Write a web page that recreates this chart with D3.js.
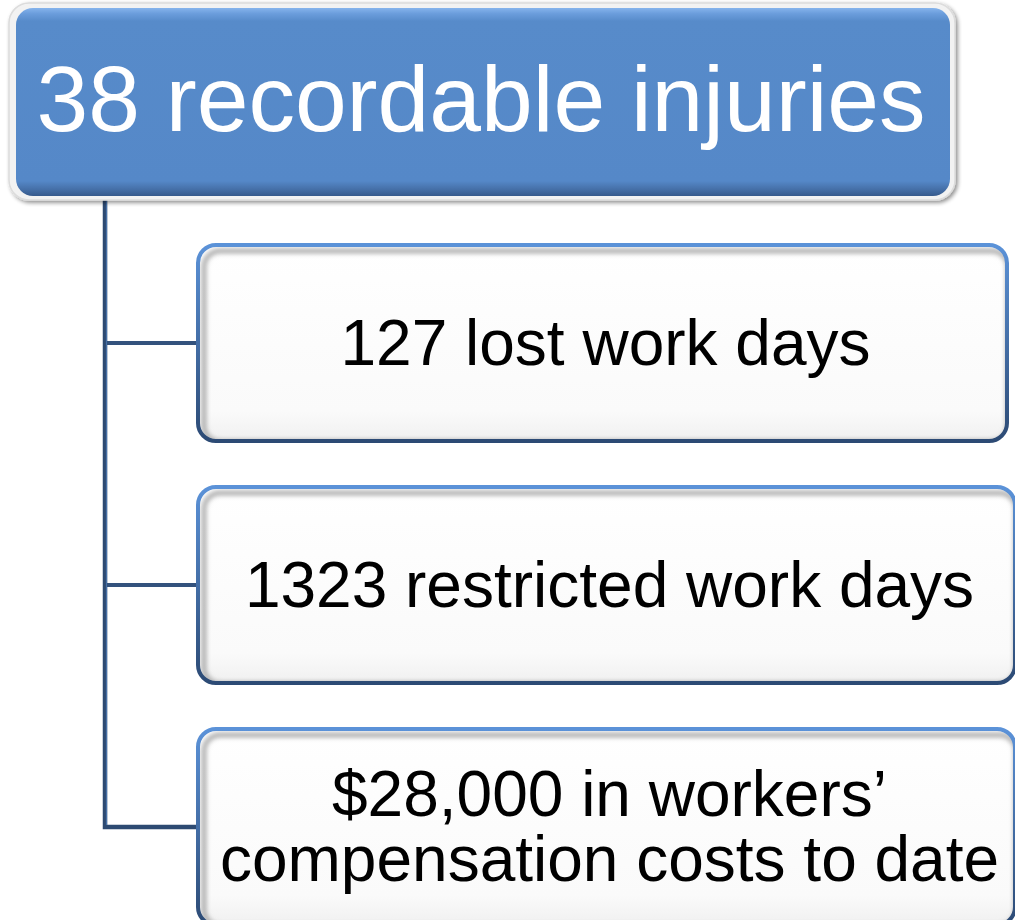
<!DOCTYPE html>
<html>
<head>
<meta charset="utf-8">
<script src="https://cdn.jsdelivr.net/npm/d3@7"></script>
<style>
  body { margin: 0; background: #fff; }
  svg { display: block; }
</style>
</head>
<body>
<div id="chart"></div>
<script>
// root and child labels (each child is a list of lines)
var rootLabel = "38 recordable injuries";
var childLabels = [
  ["127 lost work days"],
  ["1323 restricted work days"],
  ["$28,000 in workers\u2019", "compensation costs to date"]
];

var width = 1015, height = 920;

var svg = d3.select("#chart")
  .append("svg")
    .attr("width", width)
    .attr("height", height);

var defs = svg.append("defs");

// blue fill of the root box
var gBlue = defs.append("linearGradient")
  .attr("id", "rootFill").attr("x1", 0).attr("y1", 0).attr("x2", 0).attr("y2", 1);
gBlue.append("stop").attr("offset", "0%").attr("stop-color", "#86b4ec");
gBlue.append("stop").attr("offset", "3%").attr("stop-color", "#6b9ddc");
gBlue.append("stop").attr("offset", "7%").attr("stop-color", "#578bca");
gBlue.append("stop").attr("offset", "92%").attr("stop-color", "#5588c8");
gBlue.append("stop").attr("offset", "96%").attr("stop-color", "#4772ab");
gBlue.append("stop").attr("offset", "100%").attr("stop-color", "#365a8c");

// blue border of the child boxes
var gBorder = defs.append("linearGradient")
  .attr("id", "childStroke").attr("x1", 0).attr("y1", 0).attr("x2", 0).attr("y2", 1);
gBorder.append("stop").attr("offset", "0%").attr("stop-color", "#5b92d8");
gBorder.append("stop").attr("offset", "100%").attr("stop-color", "#2c4a74");

// white fill of child boxes
var gWhite = defs.append("linearGradient")
  .attr("id", "childFill").attr("x1", 0).attr("y1", 0).attr("x2", 0).attr("y2", 1);
gWhite.append("stop").attr("offset", "0%").attr("stop-color", "#ffffff");
gWhite.append("stop").attr("offset", "85%").attr("stop-color", "#fafafa");
gWhite.append("stop").attr("offset", "100%").attr("stop-color", "#f0f0f0");

// drop shadow
var shadow = defs.append("filter").attr("id", "shadow")
  .attr("x", "-5%").attr("y", "-5%").attr("width", "110%").attr("height", "115%");
shadow.append("feGaussianBlur").attr("in", "SourceAlpha").attr("stdDeviation", 2);
shadow.append("feOffset").attr("dx", 2).attr("dy", 2).attr("result", "off");
shadow.append("feComponentTransfer").append("feFuncA").attr("type", "linear").attr("slope", 0.45);
var m = shadow.append("feMerge");
m.append("feMergeNode");
m.append("feMergeNode").attr("in", "SourceGraphic");

// inner bevel for child boxes
var bevel = defs.append("filter").attr("id", "bevel");
bevel.append("feGaussianBlur").attr("stdDeviation", 2.5);

// layout
var rootBox = {x: 9, y: 3, w: 946, h: 197};
var childX = 198;
var childRight = [1007, 1015, 1015];
var trunkX = 105;

var y = d3.scaleBand()
  .domain(d3.range(childLabels.length))
  .range([245, 925])
  .paddingInner(0.19)
  .paddingOuter(0);

// connectors: elbow path from the root down to each child
var conn = svg.append("g");
var lastY = y(childLabels.length - 1) + y.bandwidth() / 2;
conn.append("path")
  .attr("d", "M" + trunkX + "," + (rootBox.y + rootBox.h - 4) + "V" + lastY + "H" + (childX + 2))
  .attr("fill", "none")
  .attr("stroke", "#2d4a72")
  .attr("stroke-width", 4.5)
  .attr("stroke-linejoin", "miter");
// thin lighter highlight on the right side of the trunk
conn.append("line")
  .attr("x1", trunkX + 1.5).attr("x2", trunkX + 1.5)
  .attr("y1", rootBox.y + rootBox.h - 4).attr("y2", lastY - 2)
  .attr("stroke", "#4670a6")
  .attr("stroke-width", 1.2);
conn.selectAll(".branch")
  .data(childLabels.slice(0, -1))
  .enter().append("line")
    .attr("class", "branch")
    .attr("x1", trunkX + 2).attr("x2", childX + 2)
    .attr("y1", function(d, i) { return y(i) + y.bandwidth() / 2; })
    .attr("y2", function(d, i) { return y(i) + y.bandwidth() / 2; })
    .attr("stroke", "#33527d")
    .attr("stroke-width", 4);

// root box
var root = svg.append("g");
root.append("rect")
  .attr("x", rootBox.x).attr("y", rootBox.y)
  .attr("width", rootBox.w).attr("height", rootBox.h)
  .attr("rx", 20)
  .attr("fill", "#f2f2f2")
  .attr("stroke", "#dcdcdc")
  .attr("stroke-width", 1.5)
  .attr("filter", "url(#shadow)");
root.append("rect")
  .attr("x", rootBox.x + 7).attr("y", rootBox.y + 5)
  .attr("width", rootBox.w - 12).attr("height", rootBox.h - 9)
  .attr("rx", 17)
  .attr("fill", "url(#rootFill)");
root.append("text")
  .attr("x", 481)
  .attr("y", 131)
  .attr("text-anchor", "middle")
  .style("font-family", "Liberation Sans, Arial, sans-serif")
  .style("font-size", "93px")
  .attr("fill", "#ffffff")
  .text(rootLabel);

// child boxes
var kids = svg.selectAll(".child")
  .data(childLabels)
  .enter().append("g")
    .attr("class", "child")
    .attr("transform", function(d, i) { return "translate(" + childX + "," + y(i) + ")"; });

kids.append("clipPath")
  .attr("id", function(d, i) { return "clip" + i; })
  .append("rect")
    .attr("width", function(d, i) { return childRight[i] - childX; })
    .attr("height", y.bandwidth())
    .attr("rx", 18);

kids.append("rect")
  .attr("width", function(d, i) { return childRight[i] - childX; })
  .attr("height", y.bandwidth())
  .attr("rx", 18)
  .attr("fill", "url(#childFill)");

// soft grey inner edge at bottom and right
kids.append("g")
  .attr("clip-path", function(d, i) { return "url(#clip" + i + ")"; })
  .append("rect")
    .attr("x", 4).attr("y", 4)
    .attr("width", function(d, i) { return childRight[i] - childX - 5; })
    .attr("height", y.bandwidth() - 5)
    .attr("rx", 16)
    .attr("fill", "none")
    .attr("stroke", "#9a9a9a")
    .attr("stroke-width", 4)
    .attr("filter", "url(#bevel)")
    .attr("transform", "translate(2,2)");

kids.append("rect")
  .attr("width", function(d, i) { return childRight[i] - childX; })
  .attr("height", y.bandwidth())
  .attr("rx", 18)
  .attr("fill", "none")
  .attr("stroke", "url(#childStroke)")
  .attr("stroke-width", 4);

kids.append("text")
  .attr("text-anchor", "middle")
  .style("font-family", "Liberation Sans, Arial, sans-serif")
  .style("font-size", "64px")
  .attr("fill", "#000000")
  .each(function(d, i) {
    var t = d3.select(this);
    var cx = (childRight[i] - childX) / 2 + 3;
    var lh = 65;
    var base = y.bandwidth() / 2 + 22 - (d.length - 1) * lh / 2;
    d.forEach(function(line, k) {
      t.append("tspan")
        .attr("x", cx)
        .attr("y", base + k * lh)
        .text(line);
    });
  });
</script>
</body>
</html>
